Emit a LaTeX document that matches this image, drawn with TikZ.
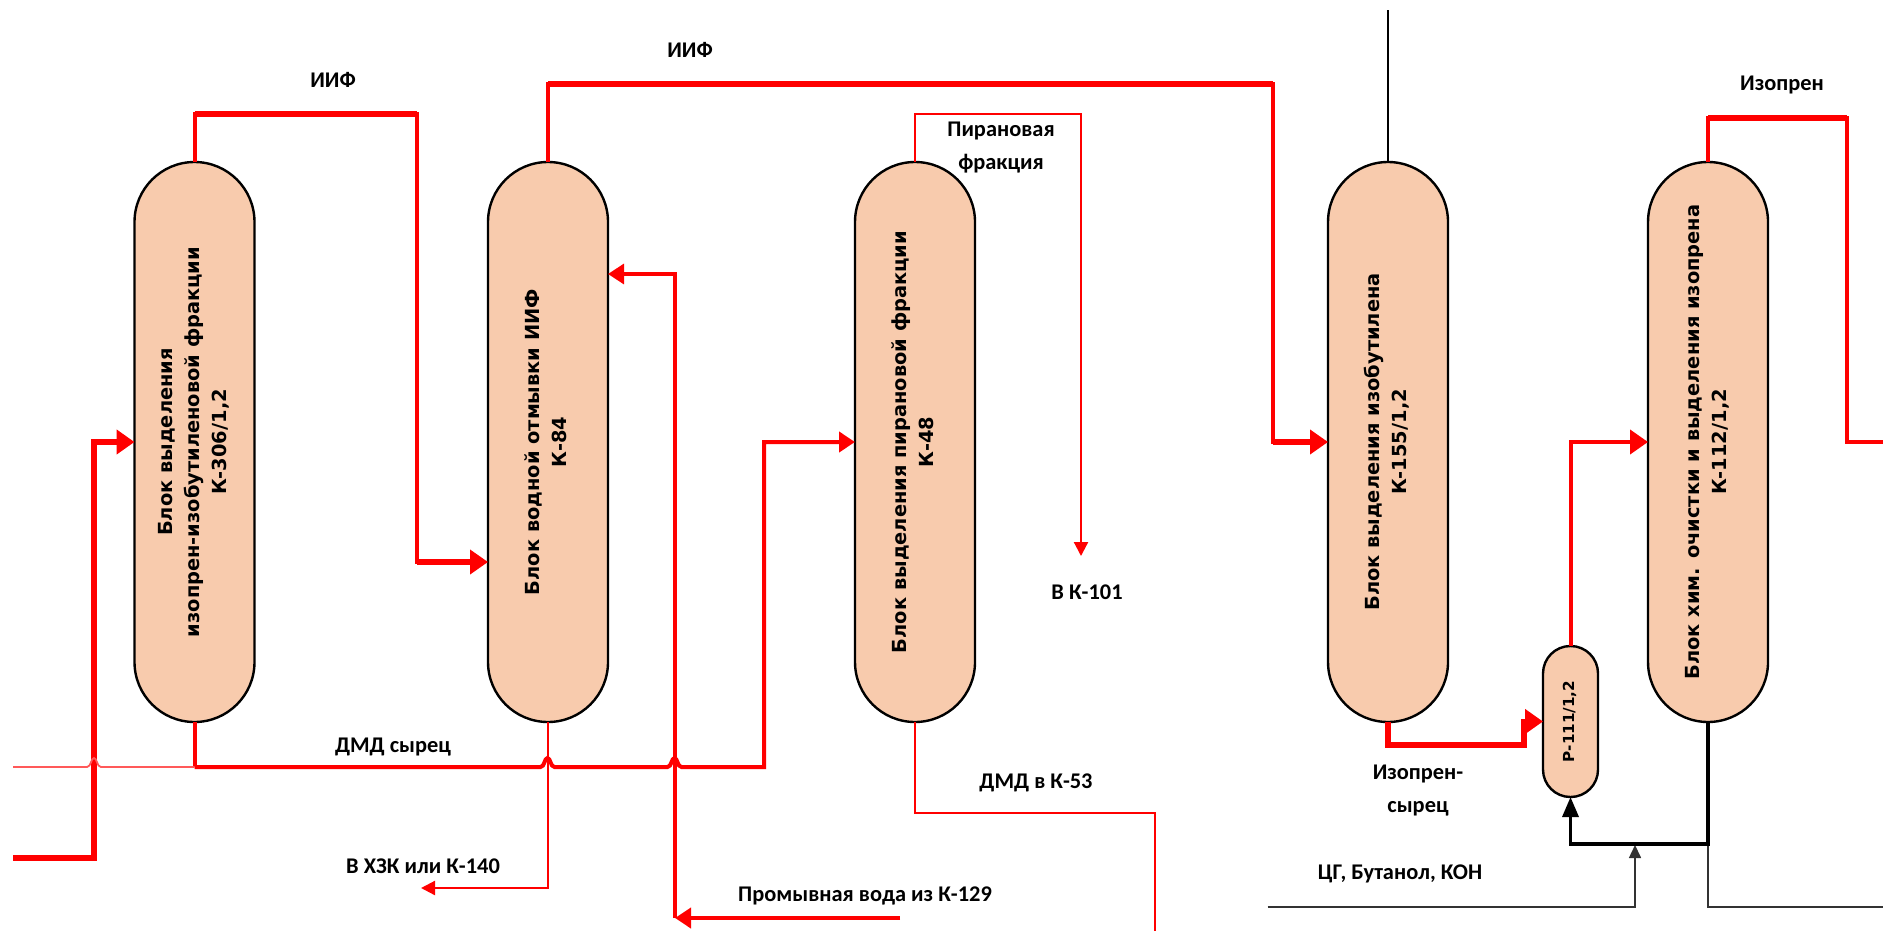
\documentclass[tikz,border=0pt]{standalone}
\usepackage{fontspec}
\setmainfont{Carlito}
\newfontfamily\colfont{DejaVu Sans}
\usepackage{xcolor}
\usepackage{tikz}
\usetikzlibrary{arrows.meta, positioning}
\definecolor{columnfill}{HTML}{F8CBAD}
\newcommand{\coltext}[1]{\rotatebox{90}{\raisebox{-1.5pt}{\begin{tabular}{@{}c@{}}#1\end{tabular}}}}
\newcommand{\hump}[2]{-- (#1-7,#2) .. controls (#1-3,#2) and (#1-3,#2-9) .. (#1,#2-9) .. controls (#1+3,#2-9) and (#1+3,#2) .. (#1+7,#2)}

\begin{document}
\begin{tikzpicture}[
    x=0.5pt, y=-0.5pt,
    columnblock/.style={draw, line width=1.2pt, rectangle, rounded corners=30pt, outer sep=0pt, fill=columnfill, minimum width=60pt, minimum height=280pt, inner sep=0pt, font=\colfont\bfseries\fontsize{9.7}{13.5}\selectfont},
    smallblock/.style={draw, line width=1.2pt, rectangle, rounded corners=13.7pt, outer sep=0pt, fill=columnfill, minimum width=27.5pt, minimum height=75.5pt, inner sep=0pt, font=\colfont\bfseries\fontsize{7.6}{9}\selectfont},
    labeltext/.style={align=center, font=\bfseries\fontsize{11.2}{16.5}\selectfont},
    bighead/.style={-{Triangle[length=9pt,width=12pt]}},
    flowbar/.style={draw=red, line width=3pt},
    flowheavy/.style={draw=red, line width=2.6pt, bighead},
    flowthick/.style={draw=red, line width=2pt, -{Triangle[length=8pt,width=10pt]}},
    flowthin/.style={draw=red, line width=1.1pt, -{Triangle[length=7pt,width=7pt]}},
    blackthick/.style={draw=black, line width=1.7pt, -{Triangle[length=10pt,width=8pt]}},
    blackthin/.style={draw=black!80, line width=0.8pt, -{Triangle[length=6.5pt,width=6pt]}}
]
\useasboundingbox (0,0) rectangle (1883,931);

% columns
\node (k306) [columnblock] at (194.5,442) {\coltext{Блок выделения\\изопрен-изобутиленовой фракции\\К-306/1,2}};
\node (k84) [columnblock, right=116.75pt of k306] {\coltext{Блок водной отмывки ИИФ\\К-84}};
\node (k48) [columnblock, right=123.5pt of k84] {\coltext{Блок выделения пирановой фракции\\К-48}};
\node (k155) [columnblock, right=176.5pt of k48] {\raisebox{-3.5pt}{\coltext{Блок выделения изобутилена\\К-155/1,2}}};
\node (k112) [columnblock, right=100pt of k155] {\coltext{Блок хим. очистки и выделения изопрена\\К-112/1,2}};
\node (p111) [smallblock] at (1570.5,721.5) {\coltext{Р-111/1,2}};

% free ends and bends
\coordinate (inleft) at (13,858);
\coordinate (rawleft) at (13,767);
\coordinate (rawjoin) at (194.5,767);
\coordinate (washin) at (900,918);
\coordinate (washturn) at (675,918);
\coordinate (pyrtarget) at (1081,556);
\coordinate (dmdout) at (1155,931);
\coordinate (xzkout) at (421,888);
\coordinate (isobtop) at (1388,10);
\coordinate (isopout) at (1883,442);
\coordinate (catleft) at (1267.5,907);
\coordinate (catjoin) at (1635,845);
\coordinate (recycle) at (1708,844);
\coordinate (drainout) at (1883,907);
\coordinate (iifturn) at (417,114);
\coordinate (iifdown) at (417,562);
\coordinate (iiftop) at (1273,84);
\coordinate (iifside) at (1273,442);
\coordinate (isopturn) at (1847,118);

% thick streams
\draw[flowthick, bighead] (k306.north) |- (iifturn) -- (iifdown) -- ([yshift=-60pt]k84.west);
\draw[flowthick, bighead] (k84.north) |- (iiftop) -- (iifside) -- (k155.west);
\draw[flowheavy] (inleft) -| (94,442) -- (k306.west);
\draw[flowthick] (rawjoin) \hump{547.5}{767} \hump{674.5}{767} -| (764,442) -- (k48.west);
\draw[flowthick, -] (k306.south) -- (rawjoin);
\draw[draw=red!65, line width=0.9pt] (rawleft) \hump{94}{767} -- (rawjoin);
\draw[flowheavy] (k155.south) |- (1524,745) |- (p111.west);
\draw[flowthick, bighead] (p111.north) |- (k112.west);
\draw[flowthick, -] (k112.north) |- (isopturn) |- (isopout);
\draw[flowbar] (k306.north |- iifturn) -- (iifturn);
\draw[flowbar] (iifdown) -- ++(60,0);
\draw[flowbar] (k84.north |- iiftop) -- (iiftop);
\draw[flowbar] (iifside) -- ++(40,0);
\draw[flowbar] (k112.north |- isopturn) -- (isopturn);

% thin streams
\draw[flowthin] (k48.north) |- (1081,114) -- (pyrtarget);
\draw[flowthin, -] (k48.south) |- (1155,813) -- (dmdout);
\draw[flowthin] (k84.south) |- (xzkout);
\draw[flowthick, line width=1.6pt] (washturn) |- ([yshift=84pt]k84.east);
\draw[flowthick, line width=2.4pt] (washin) -- (washturn);

% black lines
\draw[draw=black, line width=1pt] (k155.north) -- (isobtop);
\draw[blackthin] (catleft) -| (catjoin);
\draw[blackthin, -] (recycle) |- (drainout);
\draw[blackthick] (k112.south) -- (recycle) -| (p111.south);

% labels
\node (lbliif1) [labeltext] at (333,80) {ИИФ};
\node (lbliif2) [labeltext] at (690,50) {ИИФ};
\node (lblpyr) [labeltext] at (1001,148) {Пирановая\\фракция};
\node (lblraw) [labeltext] at (393,747) {ДМД сырец};
\node (lblxzk) [labeltext] at (423,866) {В ХЗК или К-140};
\node (lblwash) [labeltext] at (865,896) {Промывная вода из К-129};
\node (lblk101) [labeltext] at (1087,592) {В К-101};
\node (lbldmd) [labeltext] at (1036,783) {ДМД в К-53};
\node (lblraw2) [labeltext] at (1418,791) {Изопрен-\\сырец};
\node (lblcat) [labeltext] at (1400,874) {ЦГ, Бутанол, КОН};
\node (lbliso) [labeltext] at (1782,85) {Изопрен};
\end{tikzpicture}
\end{document}
